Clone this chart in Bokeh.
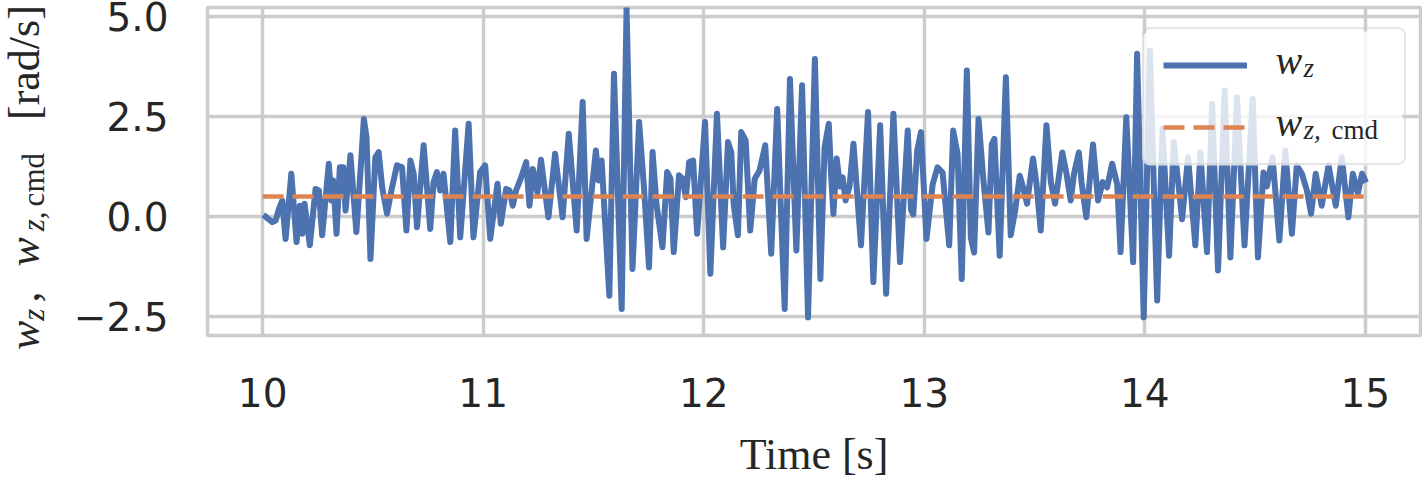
from bokeh.plotting import figure
from bokeh.layouts import row
from bokeh.models import (Range1d, FixedTicker, Label, Legend, LegendItem, Div,
                          BoxAnnotation)
from bokeh.core.properties import value
from bokeh.embed import file_html
from bokeh.resources import INLINE

# ---------------- data ----------------
t_wz = [
    10.003, 10.044, 10.059, 10.074, 10.089, 10.104, 10.130, 10.154, 10.169, 10.180,
    10.190, 10.214, 10.240, 10.255, 10.270, 10.300, 10.312, 10.320, 10.335, 10.350,
    10.365, 10.376, 10.398, 10.425, 10.443, 10.459, 10.471, 10.489, 10.511, 10.526,
    10.542, 10.564, 10.587, 10.609, 10.632, 10.652, 10.670, 10.685, 10.700, 10.730,
    10.760, 10.775, 10.790, 10.805, 10.820, 10.851, 10.873, 10.896, 10.934, 10.956,
    10.986, 11.009, 11.032, 11.065, 11.080, 11.104, 11.119, 11.134, 11.149, 11.170,
    11.195, 11.210, 11.225, 11.246, 11.262, 11.278, 11.296, 11.326, 11.360, 11.388,
    11.406, 11.424, 11.451, 11.469, 11.511, 11.524, 11.537, 11.572, 11.593, 11.628,
    11.650, 11.677, 11.707, 11.729, 11.752, 11.768, 11.786, 11.813, 11.834, 11.849,
    11.864, 11.888, 11.903, 11.919, 11.934, 11.952, 11.970, 12.006, 12.030, 12.060,
    12.088, 12.110, 12.125, 12.136, 12.155, 12.170, 12.190, 12.211, 12.231, 12.253,
    12.279, 12.306, 12.333, 12.367, 12.391, 12.420, 12.446, 12.473, 12.504, 12.529,
    12.548, 12.567, 12.577, 12.588, 12.603, 12.618, 12.630, 12.643, 12.661, 12.679,
    12.713, 12.745, 12.769, 12.800, 12.827, 12.860, 12.890, 12.925, 12.940, 12.950,
    12.968, 12.985, 13.010, 13.038, 13.060, 13.083, 13.113, 13.131, 13.151, 13.170,
    13.193, 13.211, 13.226, 13.246, 13.267, 13.291, 13.306, 13.318, 13.342, 13.370,
    13.392, 13.412, 13.433, 13.448, 13.466, 13.493, 13.508, 13.528, 13.554, 13.574,
    13.593, 13.626, 13.644, 13.664, 13.679, 13.701, 13.713, 13.735, 13.765, 13.788,
    13.809, 13.829, 13.852, 13.875, 13.890, 13.916, 13.947, 13.965, 13.995, 14.023,
    14.056, 14.080, 14.110, 14.131, 14.154, 14.169, 14.196, 14.229, 14.252, 14.282,
    14.305, 14.332, 14.362, 14.388, 14.418, 14.452, 14.489, 14.513, 14.538, 14.553,
    14.579, 14.610, 14.637, 14.667, 14.689, 14.712, 14.735, 14.754, 14.775, 14.802,
    14.833, 14.866, 14.893, 14.923, 14.943, 14.966, 14.985, 15.003,
]
wz = [
    0.04, -0.14, -0.10, 0.19, 0.40, -0.56, 1.07, -0.64, 0.27, -0.43,
    0.32, -0.72, 0.69, 0.65, -0.47, 1.32, 0.40, 0.90, -0.43, 1.23,
    1.23, 0.15, 1.53, -0.39, 1.07, 2.44, 1.98, -1.06, 1.48, 1.61,
    0.73, 0.07, 0.73, 1.28, 1.23, -0.35, 1.40, 1.07, -0.27, 1.78,
    -0.31, 0.86, 1.11, 0.65, 1.07, -0.64, 2.15, -0.52, 2.32, -0.52,
    1.11, 1.28, -0.56, 0.82, -0.18, 0.69, 0.65, 0.27, 0.65, 0.94,
    1.36, 0.27, 1.19, 0.60, 1.42, 0.73, -0.02, 1.57, -0.02, 2.07,
    0.86, -0.35, 2.86, -0.56, 1.65, 0.90, 1.40, -1.98, 3.57, -2.31,
    5.20, -1.31, 2.36, 0.73, -1.27, 1.61, 0.30, -0.77, 1.11, 0.95,
    -0.89, 1.03, 0.95, 0.48, 1.36, 1.40, -0.43, 2.36, -1.43, 2.57,
    -0.77, 1.86, 1.60, 0.30, -0.47, 2.11, 1.90, -0.35, 0.94, 1.15,
    1.78, -0.93, 2.69, -2.31, 3.44, -0.85, 3.28, -2.52, 3.94, -1.56,
    1.73, 2.32, 1.10, 0.07, 1.45, 0.75, 0.98, 0.40, 0.75, 1.82,
    -0.72, 2.61, -1.64, 2.28, -1.93, 2.57, -1.14, 2.15, 0.17, 0.05,
    1.65, 2.11, -0.56, 0.80, 1.23, 1.10, -0.72, 2.15, 1.57, -1.56,
    3.65, -0.52, -0.90, 2.44, 0.98, -0.40, 1.80, 1.94, -0.98, 3.48,
    -0.47, 0.15, 1.02, 0.73, 0.32, 1.45, 0.86, -0.35, 2.28, 0.86,
    0.32, 1.60, 1.10, 0.40, 1.07, 1.60, 0.86, -0.02, 1.80, 0.40,
    0.86, 0.73, 1.32, 0.80, -0.89, 2.48, -1.14, 4.07, -2.52, 4.15,
    -2.10, 2.20, -0.98, 1.86, 0.73, -0.07, 1.48, -0.72, 1.60, -0.89,
    2.82, -1.35, 3.15, -1.02, 2.98, -0.72, 2.94, -1.02, 1.10, 0.75,
    1.48, -0.60, 1.65, -0.43, 1.28, 1.07, 0.65, 0.07, 1.07, 0.27,
    1.28, 0.27, 1.48, -0.02, 1.07, 0.58, 1.07, 0.85,
]
assert len(t_wz) == len(wz)

t_cmd = [10.0, 15.0]
wz_cmd = [0.5, 0.5]

x_ticks = [10, 11, 12, 13, 14, 15]
x_tick_labels = ["10", "11", "12", "13", "14", "15"]
y_ticks = [-2.5, 0.0, 2.5, 5.0]
y_tick_labels = ["\u22122.5", "0.0", "2.5", "5.0"]
x_limits = (9.75, 15.25)
y_limits = (-2.975, 5.225)

x_label = "Time [s]"
legend_parts_1 = [("w", "italic", "main"), ("z", "italic", "sub")]
legend_parts_2 = [("w", "italic", "main"), ("z,", "italic", "sub"), ("cmd", "normal", "sub")]

# ---------------- styling ----------------
BLUE = "#4c72b0"
ORANGE = "#dd8452"
GRID = "#cccccc"
TEXT = "#262626"
SERIF = "Liberation Serif"
LABEL_W = 60  # width of the column holding the rotated y label


def sp(px):
    return f'<span style="display:inline-block;width:{px}px"></span>'


def sub(txt, italic):
    tag = "i" if italic else "span"
    return (f'<span style="font-size:31px;vertical-align:-5px;line-height:1">'
            f'<{tag}>{txt}</{tag}></span>')


y_label_html = (
    '<div style="position:relative;width:%dpx;height:486px;">'
    '<div style="position:absolute;left:3px;top:350px;transform-origin:0 0;'
    'transform:rotate(-90deg);white-space:nowrap;font-family:\'Liberation Serif\';'
    'font-size:44px;line-height:44px;color:%s;">'
    '<i>w</i>%s%s,%s<i>w</i>%s%s%s%s%s[rad/s]'
    '</div></div>'
) % (LABEL_W, TEXT, sub("z", True), sp(6), sp(25), sp(6), sub("z,", True), sp(5),
     sub("cmd", False), sp(33))

ylabel_div = Div(text=y_label_html, width=LABEL_W, height=486, margin=0)

p = figure(
    width=1422 - LABEL_W, height=486,
    output_backend="svg", toolbar_location=None,
    x_range=Range1d(*x_limits), y_range=Range1d(*y_limits),
    min_border_left=207 - LABEL_W, min_border_right=2, min_border_top=7,
    min_border_bottom=151,
    background_fill_color="white", border_fill_color="white",
    outline_line_color=GRID, outline_line_width=3.5, margin=0,
)

for ax, ticks, labels, standoff in ((p.xaxis, x_ticks, x_tick_labels, 36),
                                    (p.yaxis, y_ticks, y_tick_labels, 33)):
    ax.ticker = FixedTicker(ticks=ticks)
    ax.major_label_overrides = {k: v for k, v in zip(ticks, labels)}
    ax.axis_line_color = None
    ax.major_tick_line_color = None
    ax.minor_tick_line_color = None
    ax.major_label_text_font = "DejaVu Sans"
    ax.major_label_text_font_size = "39px"
    ax.major_label_text_color = TEXT
    ax.major_label_standoff = standoff

p.xaxis.axis_label = x_label
p.xaxis.axis_label_text_font = SERIF
p.xaxis.axis_label_text_font_style = "normal"
p.xaxis.axis_label_text_font_size = "44px"
p.xaxis.axis_label_text_color = TEXT
p.xaxis.axis_label_standoff = 20

p.xgrid.grid_line_color = GRID
p.ygrid.grid_line_color = GRID
p.xgrid.grid_line_width = 3.5
p.ygrid.grid_line_width = 3.5

r_wz = p.line(t_wz, wz, line_color=BLUE, line_width=6, line_join="round")
r_cmd = p.line(t_cmd, wz_cmd, line_color=ORANGE, line_width=4.5, line_dash="21 9")

# translucent legend backdrop (frame-relative screen units), below the legend texts
LEG_LEFT, LEG_BOTTOM, LEG_W, LEG_H = 935, 170, 260, 134
backdrop = BoxAnnotation(
    left=LEG_LEFT, right=LEG_LEFT + LEG_W, bottom=LEG_BOTTOM, top=LEG_BOTTOM + LEG_H,
    left_units="screen", right_units="screen", bottom_units="screen", top_units="screen",
    fill_color="white", fill_alpha=0.8, line_color=None, border_radius=8,
    level="annotation", editable=False,
)
p.add_layout(backdrop)

legend = Legend(
    items=[LegendItem(label=value(" "), renderers=[r_wz]),
           LegendItem(label=value(" "), renderers=[r_cmd])],
    location=(LEG_LEFT, LEG_BOTTOM),
    padding=19, spacing=28,
    glyph_width=84, glyph_height=34, label_height=34, label_width=110,
    label_standoff=28, label_text_font_size="10px",
    background_fill_color="white", background_fill_alpha=0.0,
    border_line_color=GRID, border_line_width=2.5, border_radius=8,
)
p.add_layout(legend, "center")

LEG_SIZES = {"main": "40px", "sub": "27px"}
for parts, base_y, xs in ((legend_parts_1, 275, [1068, 1096]),
                          (legend_parts_2, 213, [1068, 1096, 1124])):
    for (txt, style, role), xx in zip(parts, xs):
        p.add_layout(Label(
            x=xx, y=base_y if role == "main" else base_y - 7,
            x_units="screen", y_units="screen", level="overlay",
            text=txt, text_font=SERIF, text_font_style=style,
            text_font_size=LEG_SIZES[role], text_color=TEXT,
            text_align="left", text_baseline="alphabetic",
        ))

layout = row(ylabel_div, p, spacing=0)

open("out.html", "w").write(file_html(layout, INLINE))
